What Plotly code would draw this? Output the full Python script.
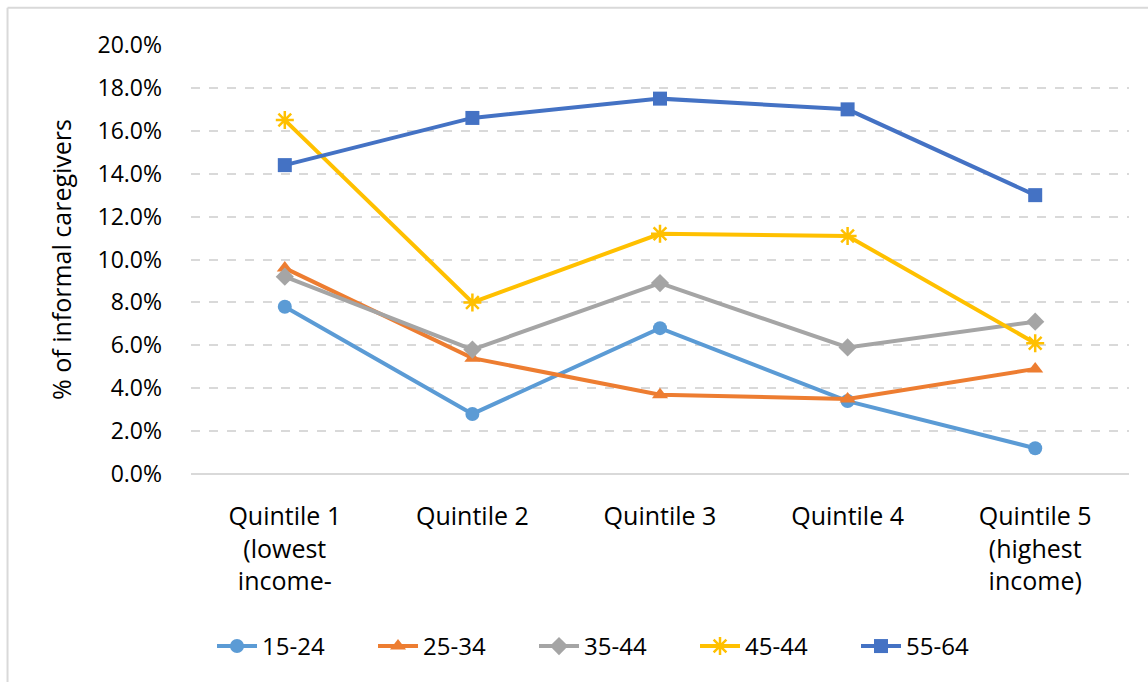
import plotly.graph_objects as go

# Income quintiles (x categories)
quintiles = [
    "Quintile 1<br>(lowest<br>income-",
    "Quintile 2",
    "Quintile 3",
    "Quintile 4",
    "Quintile 5<br>(highest<br>income)",
]

# Share of informal caregivers (%) by age group
age_15_24 = [7.8, 2.8, 6.8, 3.4, 1.2]
age_25_34 = [9.6, 5.4, 3.7, 3.5, 4.9]
age_35_44 = [9.2, 5.8, 8.9, 5.9, 7.1]
age_45_44 = [16.5, 8.0, 11.2, 11.1, 6.1]
age_55_64 = [14.4, 16.6, 17.5, 17.0, 13.0]

y_ticks = [0, 2, 4, 6, 8, 10, 12, 14, 16, 18, 20]
y_tick_labels = ["0.0%", "2.0%", "4.0%", "6.0%", "8.0%", "10.0%",
                 "12.0%", "14.0%", "16.0%", "18.0%", "20.0%"]

series = [
    ("15-24", age_15_24, "#5B9BD5", "circle"),
    ("25-34", age_25_34, "#ED7D31", "triangle-up"),
    ("35-44", age_35_44, "#A5A5A5", "diamond"),
    ("45-44", age_45_44, "#FFC000", "asterisk-open"),
    ("55-64", age_55_64, "#4472C4", "square"),
]

FONT = "'Open Sans', Lato, sans-serif"

fig = go.Figure()
for name, vals, color, symbol in series:
    marker = dict(symbol=symbol, size=14, color=color)
    if symbol == "asterisk-open":
        marker.update(size=15, line=dict(color=color, width=2.5))
    fig.add_trace(go.Scatter(
        x=quintiles, y=vals, name=name, mode="lines+markers",
        line=dict(color=color, width=4),
        marker=marker,
    ))

fig.update_layout(
    width=1148, height=682,
    margin=dict(l=191, r=19, t=45, b=208),
    paper_bgcolor="white", plot_bgcolor="white",
    font=dict(family=FONT, color="#000000", size=20),
    showlegend=True,
    legend=dict(
        orientation="h", x=0.0224, xanchor="left", y=-0.402, yanchor="middle",
        font=dict(size=24, family=FONT, color="#000000"),
        entrywidth=106, itemwidth=40,
        bgcolor="rgba(0,0,0,0)",
    ),
    shapes=[
        dict(type="line", xref="paper", yref="paper",
             x0=-0.1956, x1=1.05, y0=1.0866, y1=1.0866,
             line=dict(color="#D9D9D9", width=2)),
        dict(type="line", xref="paper", yref="paper",
             x0=-0.1956, x1=-0.1956, y0=1.0866, y1=-0.6,
             line=dict(color="#D9D9D9", width=2)),
    ],
)

fig.update_xaxes(
    type="category", range=[-0.5, 4.5],
    showgrid=False, showline=False, zeroline=False,
    ticks="", tickfont=dict(size=25, family=FONT, color="#000000"),
    ticklabelstandoff=25,
)

fig.update_yaxes(
    range=[0, 20],
    tickmode="array", tickvals=y_ticks, ticktext=y_tick_labels,
    showgrid=True, gridcolor="#D9D9D9", gridwidth=1.5, griddash="dash",
    zeroline=True, zerolinecolor="#D9D9D9", zerolinewidth=1.5,
    showline=False, ticks="",
    tickfont=dict(size=23, family=FONT, color="#000000"),
    ticklabelstandoff=28,
    title=dict(text="% of informal caregivers",
               font=dict(size=25, family=FONT, color="#000000"),
               standoff=18),
)

fig.write_html("out.html")
